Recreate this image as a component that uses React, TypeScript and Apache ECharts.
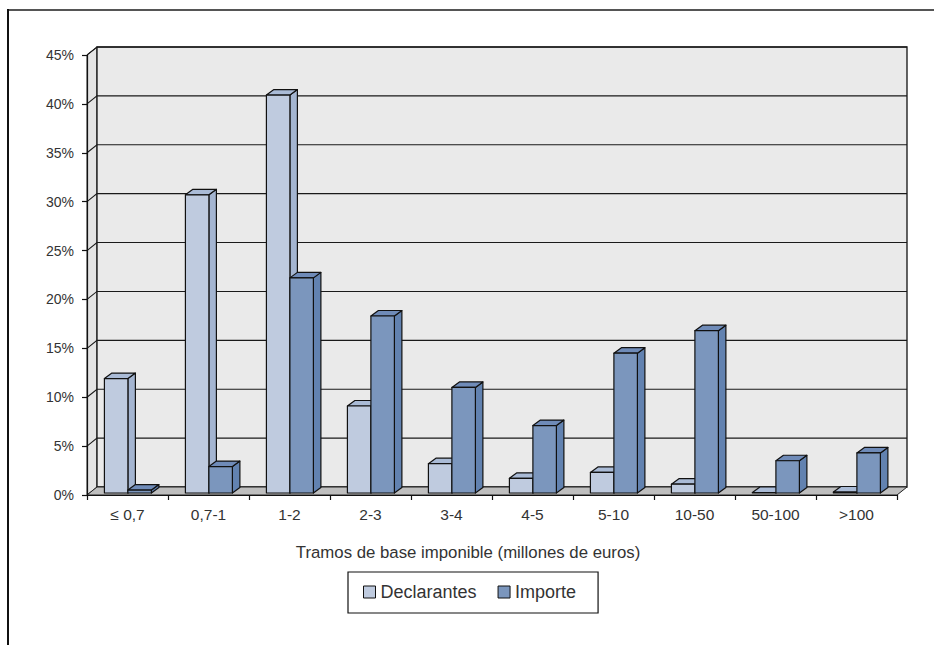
import React, { useEffect, useRef } from "react";
import * as echarts from "echarts";

const categories = ["≤ 0,7", "0,7-1", "1-2", "2-3", "3-4", "4-5", "5-10", "10-50", "50-100", ">100"];
const declarantes = [11.7, 30.5, 40.7, 8.9, 3.0, 1.5, 2.1, 0.9, 0.05, 0.1];
const importe = [0.3, 2.7, 22.0, 18.1, 10.8, 6.9, 14.3, 16.6, 3.3, 4.1];
const yTicks = [0, 5, 10, 15, 20, 25, 30, 35, 40, 45];

const seriesNames = ["Declarantes", "Importe"];
const faceColors = [
  { front: "#bfcbdf", side: "#a4b5d1", top: "#aabbd6" },
  { front: "#7b96bd", side: "#6282b0", top: "#6f8bb8" },
];

const WALL_D = [10, -8];
const BAR_D = [7.5, -5.5];
const BAR_OFF = [0.4, -2];

export default function App() {
  const ref = useRef<HTMLDivElement>(null);
  useEffect(() => {
    if (!ref.current) return;
    const chart = echarts.init(ref.current, null, { renderer: "svg" });

    const wallRender = (params: any, api: any) => {
      const cs = params.coordSys;
      const x0 = cs.x, x1 = cs.x + cs.width, y0 = cs.y, yb = cs.y + cs.height;
      const [dx, dy] = WALL_D;
      const children: any[] = [];
      children.push({
        type: "polygon",
        shape: { points: [[x0, yb], [x0, y0], [x0 + dx, y0 + dy], [x0 + dx, yb + dy]] },
        style: { fill: "#e4e4e4", stroke: "#222", lineWidth: 1 },
      });
      children.push({
        type: "rect",
        shape: { x: x0 + dx, y: y0 + dy, width: x1 - x0, height: yb - y0 },
        style: { fill: "#eaeaea", stroke: "#111", lineWidth: 1.3 },
      });
      children.push({
        type: "polygon",
        shape: { points: [[x0, yb], [x1, yb], [x1 + dx, yb + dy], [x0 + dx, yb + dy]] },
        style: { fill: "#bebebe", stroke: "#222", lineWidth: 1 },
      });
      yTicks.forEach((v) => {
        if (v === 0) return;
        const y = api.coord([0, v])[1];
        children.push({
          type: "polyline",
          shape: { points: [[x0, y], [x0 + dx, y + dy], [x1 + dx, y + dy]] },
          style: { fill: null, stroke: "#1a1a1a", lineWidth: 1.1 },
        });
      });
      return { type: "group", children };
    };

    const barRender = (si: number) => (params: any, api: any) => {
      const i = api.value(0);
      const v = api.value(1);
      const base = api.coord([i, 0]);
      const top = api.coord([i, v]);
      const cw = api.size([1, 0])[0];
      const bw = cw * 0.29;
      const cx = base[0] + BAR_OFF[0];
      const xL = si === 0 ? cx - bw : cx;
      const xR = xL + bw;
      const yB = base[1] + BAR_OFF[1];
      const yT = top[1] + BAR_OFF[1];
      const [dx, dy] = BAR_D;
      const c = faceColors[si];
      const stroke = { stroke: "#111", lineWidth: 1.2, lineJoin: "round" };
      return {
        type: "group",
        children: [
          {
            type: "polygon",
            shape: { points: [[xR, yB], [xR, yT], [xR + dx, yT + dy], [xR + dx, yB + dy]] },
            style: { fill: c.side, ...stroke },
          },
          {
            type: "polygon",
            shape: { points: [[xL, yT], [xR, yT], [xR + dx, yT + dy], [xL + dx, yT + dy]] },
            style: { fill: c.top, ...stroke },
          },
          {
            type: "rect",
            shape: { x: xL, y: yT, width: bw, height: Math.max(yB - yT, 0.5) },
            style: { fill: c.front, ...stroke },
          },
        ],
      };
    };

    const option: any = {
      animation: false,
      backgroundColor: "#ffffff",
      textStyle: { fontFamily: "Liberation Sans, Arial, sans-serif" },
      grid: { left: 87, right: 37, top: 55, bottom: 150 },
      graphic: [
        { type: "line", shape: { x1: 7, y1: 10, x2: 934, y2: 10 }, style: { stroke: "#555", lineWidth: 2 } },
        { type: "line", shape: { x1: 8, y1: 9, x2: 8, y2: 645 }, style: { stroke: "#111", lineWidth: 2 } },
      ],
      legend: {
        left: 348,
        top: 572,
        padding: [11, 22, 12, 15],
        itemGap: 21,
        itemWidth: 12,
        itemHeight: 12,
        icon: "rect",
        borderColor: "#111",
        borderWidth: 1.2,
        textStyle: { fontSize: 18, color: "#333", fontFamily: "Liberation Sans, Arial, sans-serif" },
        data: seriesNames.map((n, k) => ({
          name: n,
          itemStyle: { color: faceColors[k].front, borderColor: "#111", borderWidth: 1 },
        })),
      },
      xAxis: {
        type: "category",
        data: categories,
        z: 10,
        boundaryGap: true,
        axisLine: { lineStyle: { color: "#111", width: 1.2 } },
        axisTick: { show: true, length: 5, lineStyle: { color: "#111", width: 1.2 } },
        axisLabel: { color: "#333", fontSize: 15.5, margin: 11 },
        name: "Tramos de base imponible (millones de euros)",
        nameLocation: "middle",
        nameGap: 49,
        nameTextStyle: { color: "#333", fontSize: 16.8, padding: [0, 48, 0, 0] },
        splitLine: { show: false },
      },
      yAxis: {
        type: "value",
        min: 0,
        max: 45,
        interval: 5,
        z: 10,
        axisLine: { show: true, lineStyle: { color: "#111", width: 1.2 } },
        axisTick: { show: true, length: 5, lineStyle: { color: "#111", width: 1.2 } },
        axisLabel: { color: "#333", fontSize: 14, margin: 13, formatter: "{value}%" },
        splitLine: { show: false },
      },
      series: [
        {
          type: "custom",
          name: "walls",
          silent: true,
          z: 1,
          renderItem: wallRender,
          data: [[0, 0]],
        },
        ...seriesNames.map((n, si) => ({
          type: "custom",
          name: n,
          z: 2 + si,
          itemStyle: { color: faceColors[si].front, borderColor: "#111", borderWidth: 1 },
          renderItem: barRender(si),
          data: (si === 0 ? declarantes : importe).map((v, i) => [i, v]),
        })),
      ],
    };
    chart.setOption(option);
    return () => chart.dispose();
  }, []);
  return (
    <div
      ref={ref}
      style={{ position: "fixed", left: 0, top: 0, width: 934, height: 645 }}
    />
  );
}
